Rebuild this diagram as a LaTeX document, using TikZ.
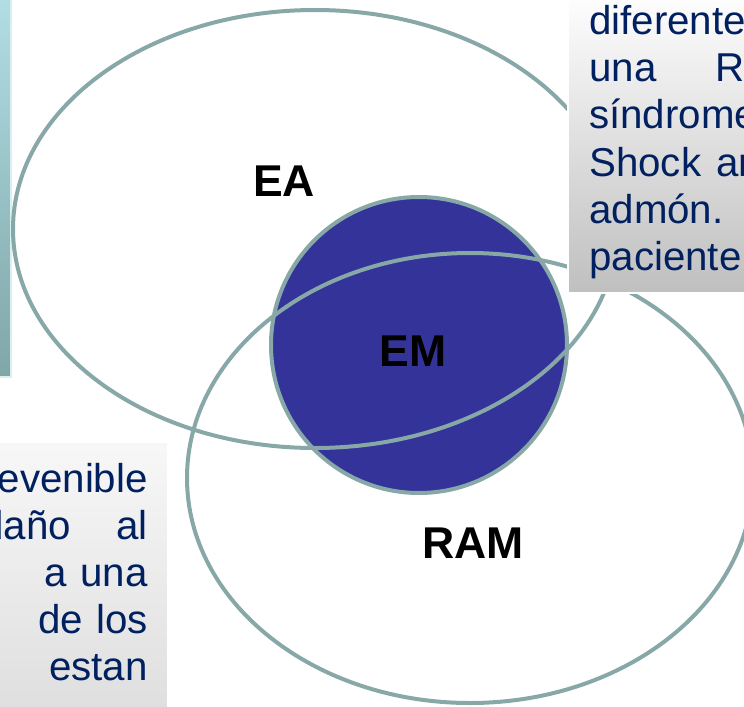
\documentclass[tikz,border=0pt]{standalone}
\usepackage{fontspec}
\setmainfont{Liberation Sans}
\usepackage{tikz}
\definecolor{ringgray}{RGB}{136,168,168}
\definecolor{emblue}{RGB}{51,51,153}
\definecolor{navy}{RGB}{0,32,96}
\definecolor{barlight}{RGB}{178,223,229}
\definecolor{bardark}{RGB}{128,166,168}

\begin{document}
\begin{tikzpicture}[x=0.75pt,y=-0.75pt,
		ring/.style={draw=ringgray,line width=3pt},
		setlabel/.style={font=\fontsize{33.4}{40}\selectfont\bfseries,text=black,inner sep=0pt},
		bodyline/.style={font=\fontsize{30.2}{35}\selectfont,text=navy,inner sep=0pt}]
		\useasboundingbox (0,0) rectangle (744,707);
		\clip (0,0) rectangle (744,707);
		% side bar
		\shade[top color=barlight,bottom color=bardark,draw=barlight!50!white,line width=0.8pt] (-10,-10) rectangle (11,377);
		% the three sets
		\filldraw[ring,fill=emblue] (419,345) circle [radius=148];
		\draw[ring] (315,229) ellipse [x radius=302,y radius=219];
		\draw[ring] (470,478) ellipse [x radius=283,y radius=225];
		\node[setlabel] (ea) at (284,181) {EA};
		\node[setlabel] (em) at (413,351) {EM};
		\node[setlabel] (ram) at (473,543) {RAM};
		% text box, top right
		\shade[top color=white,bottom color=black!25,draw=white,line width=0.8pt] (568,-10) rectangle (760,293);
		\node[bodyline,anchor=base west] (r1) at (589,34) {diferente};
		\node[bodyline,anchor=base west] (r2) at (589,81) {una\hspace*{44pt}R};
		\node[bodyline,anchor=base west] (r3) at (589,128) {síndrome};
		\node[bodyline,anchor=base west] (r4) at (589,176) {Shock\hspace*{11.5pt}ar};
		\node[bodyline,anchor=base west] (r5) at (589,223) {admón.};
		\node[bodyline,anchor=base west] (r6) at (589,270) {paciente};
		% text box, bottom left
		\shade[top color=black!3,bottom color=black!13,draw=white,line width=0.8pt] (-10,442) rectangle (168,720);
		\node[bodyline,anchor=base east] (l1) at (148,492) {evenible};
		\node[bodyline,anchor=base east] (l2) at (148,539) {daño\hspace*{34pt}al};
		\node[bodyline,anchor=base east] (l3) at (148,586) {a\hspace*{10pt}una};
		\node[bodyline,anchor=base east] (l4) at (148,633) {de\hspace*{10pt}los};
		\node[bodyline,anchor=base east] (l5) at (148,680) {estan};
\end{tikzpicture}
\end{document}
